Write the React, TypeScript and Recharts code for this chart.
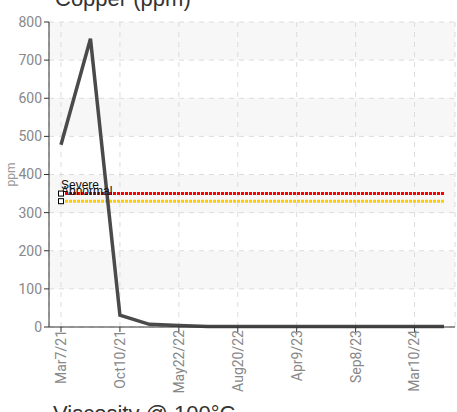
import React from 'react';
import { LineChart, Line, XAxis, YAxis, CartesianGrid, Label } from 'recharts';

const dates = [
  'Mar7/21', 'Jun15/21', 'Oct10/21', 'Jan20/22', 'May22/22', 'Jul5/22', 'Aug20/22',
  'Nov30/22', 'Apr9/23', 'Jun30/23', 'Sep8/23', 'Dec12/23', 'Mar10/24', 'Jun20/24',
];
const copper = [478, 756, 31, 7, 4, 1, 1, 1, 1, 1, 1, 1, 1, 1];
const severeLevel = 350;
const abnormalLevel = 330;
const yTicks = [0, 100, 200, 300, 400, 500, 600, 700, 800];

const data = dates.map((d, i) => ({
  date: d,
  copper: copper[i],
  severe: severeLevel,
  abnormal: abnormalLevel,
}));

const FONT = '"Liberation Sans Narrow", "Roboto", "Liberation Sans", sans-serif';

const makeMarker = (text: string, dy: number) => (props: any) => {
  const { cx, cy, index } = props;
  if (index !== 0) return <g key={`m${index}`} />;
  return (
    <g key={`m${index}`}>
      <rect x={cx - 2.5} y={cy - 2.5} width={5} height={5} fill="#fff" stroke="#000" strokeWidth={1} />
      <text x={cx} y={cy + dy} fontSize={12} fill="#111" fontFamily='"Liberation Sans", Arial, sans-serif'>
        {text}
      </text>
    </g>
  );
};

export default function App() {
  return (
    <div style={{ position: 'absolute', left: 0, top: 0, width: 457, height: 412, background: '#fff', overflow: 'hidden' }}>
      <div
        style={{
          position: 'absolute', left: 55, top: -14, fontSize: 22, lineHeight: '26px',
          fontFamily: '"Liberation Sans", Arial, sans-serif', color: '#333', whiteSpace: 'nowrap',
        }}
      >
        Copper (ppm)
      </div>
      <LineChart
        width={457}
        height={412}
        data={data}
        margin={{ top: 22, right: 2, bottom: 0, left: 0 }}
      >
        <CartesianGrid
          stroke="#dcdcdc"
          strokeDasharray="5 5"
          horizontalFill={['#f7f7f7', '#ffffff']}
          fillOpacity={1}
        />
        <XAxis
          dataKey="date"
          interval={1}
          height={85}
          padding={{ left: 12, right: 11 }}
          stroke="#333"
          tickSize={5}
          tick={{ fill: '#888', fontSize: 14, fontFamily: FONT, angle: -90, textAnchor: 'end', dy: -4, dx: -5 } as any}
          tickLine={{ stroke: '#333' }}
        />
        <YAxis
          domain={[0, 800]}
          ticks={yTicks}
          width={49}
          stroke="#333"
          tickSize={5}
          tick={{ fill: '#888', fontSize: 14, fontFamily: FONT }}
          tickLine={{ stroke: '#333' }}
        >
          <Label
            value="ppm"
            angle={-90}
            position="insideLeft"
            offset={11}
            style={{ fill: '#999', fontSize: 12, fontFamily: FONT, textAnchor: 'middle' }}
          />
        </YAxis>
        <Line
          dataKey="abnormal"
          stroke="#ffcc00"
          strokeWidth={3}
          strokeDasharray="3 1"
          dot={makeMarker('Abnormal', -6)}
          activeDot={false}
          isAnimationActive={false}
        />
        <Line
          dataKey="severe"
          stroke="#ff0000"
          strokeWidth={3}
          strokeDasharray="3 1"
          dot={makeMarker('Severe', -5)}
          activeDot={false}
          isAnimationActive={false}
        />
        <Line
          dataKey="copper"
          stroke="#4a4a4a"
          strokeWidth={3.5}
          dot={false}
          activeDot={false}
          isAnimationActive={false}
        />
      </LineChart>
      <div
        style={{
          position: 'absolute', left: 53, top: 401, fontSize: 22, lineHeight: '26px',
          fontFamily: '"Liberation Sans", Arial, sans-serif', color: '#333', whiteSpace: 'nowrap',
        }}
      >
        Viscosity @ 100°C
      </div>
    </div>
  );
}
